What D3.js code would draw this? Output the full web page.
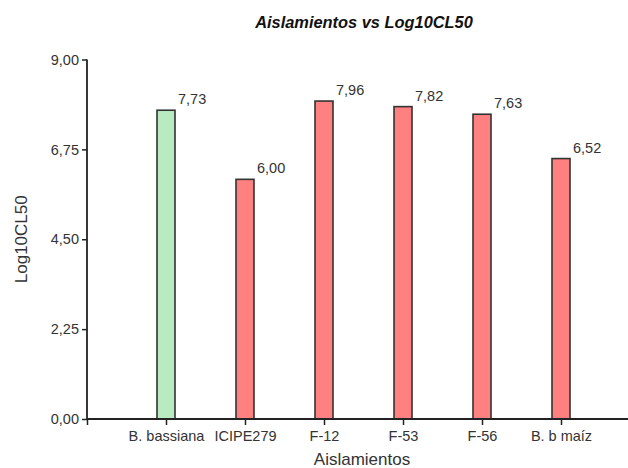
<!DOCTYPE html>
<html>
<head>
<meta charset="utf-8">
<script src="https://cdn.jsdelivr.net/npm/d3@7"></script>
<style>
  html, body { margin: 0; padding: 0; background: #fff; }
  svg { display: block; }
  text { font-family: "Liberation Sans", Arial, sans-serif; fill: #333; }
</style>
</head>
<body>
<script>
// Isolates and their Log10 CL50 values
const categories = ["B. bassiana", "ICIPE279", "F-12", "F-53", "F-56", "B. b maíz"];
const values = [7.73, 6.00, 7.96, 7.82, 7.63, 6.52];
const barColors = ["#b8ecc0", "#ff8080", "#ff8080", "#ff8080", "#ff8080", "#ff8080"];
const yTicks = [0, 2.25, 4.5, 6.75, 9];

const width = 628, height = 468;
const x0 = 87, x1 = 640, yTop = 59.5, yBottom = 419;
const fmt = v => d3.format(".2f")(v).replace(".", ",");

const svg = d3.select("body").append("svg")
  .attr("width", width).attr("height", height);

// categories sit on integer slots 1..6 of a 0..7 axis
const x = d3.scaleLinear().domain([0, categories.length + 1]).range([x0, x1]);
const y = d3.scaleLinear().domain([0, 9]).range([yBottom, yTop]);
const barW = 18;

// bars
svg.selectAll("rect.bar").data(values).enter().append("rect")
  .attr("class", "bar")
  .attr("x", (d, i) => x(i + 1) - barW / 2)
  .attr("y", d => y(d))
  .attr("width", barW)
  .attr("height", d => y(0) - y(d))
  .attr("fill", (d, i) => barColors[i])
  .attr("stroke", "#333")
  .attr("stroke-width", 1.6);

// value labels
svg.selectAll("text.val").data(values).enter().append("text")
  .attr("class", "val")
  .attr("x", (d, i) => x(i + 1) + barW / 2 + 3)
  .attr("y", d => y(d) - 6)
  .attr("font-size", "14.5px")
  .text(d => fmt(d));

// y axis
const yAxis = d3.axisLeft(y).tickValues(yTicks).tickFormat(fmt).tickSize(5).tickPadding(3);
const gy = svg.append("g").attr("transform", `translate(${x0},0)`).call(yAxis);
gy.select(".domain").attr("stroke", "#222").attr("stroke-width", 1.8).attr("d", `M0,${yTop}V${yBottom}`);
gy.selectAll(".tick line").attr("stroke", "#222").attr("stroke-width", 1.5);
gy.selectAll(".tick text").attr("font-size", "14.5px").attr("font-family", null).attr("fill", "#333");

// x axis
const xAxis = d3.axisBottom(x)
  .tickValues(d3.range(0, categories.length + 1))
  .tickFormat(i => i === 0 ? "" : categories[i - 1])
  .tickSize(6).tickPadding(6);
const gx = svg.append("g").attr("transform", `translate(0,${yBottom})`).call(xAxis);
gx.select(".domain").attr("stroke", "#222").attr("stroke-width", 1.8).attr("d", `M${x0},0H${x1}`);
gx.selectAll(".tick line").attr("stroke", "#222").attr("stroke-width", 1.5);
gx.selectAll(".tick text").attr("font-size", "14.5px").attr("font-family", null).attr("fill", "#333");

// title
svg.append("text")
  .attr("x", 364).attr("y", 28)
  .attr("text-anchor", "middle")
  .attr("font-size", "16.4px")
  .attr("font-weight", "bold")
  .attr("font-style", "italic")
  .style("fill", "#111")
  .text("Aislamientos vs Log10CL50");

// axis titles
svg.append("text")
  .attr("x", 362).attr("y", 465)
  .attr("text-anchor", "middle")
  .attr("font-size", "17px")
  .text("Aislamientos");

svg.append("text")
  .attr("transform", `translate(27,${(yTop + yBottom) / 2}) rotate(-90)`)
  .attr("text-anchor", "middle")
  .attr("font-size", "17px")
  .text("Log10CL50");
</script>
</body>
</html>
